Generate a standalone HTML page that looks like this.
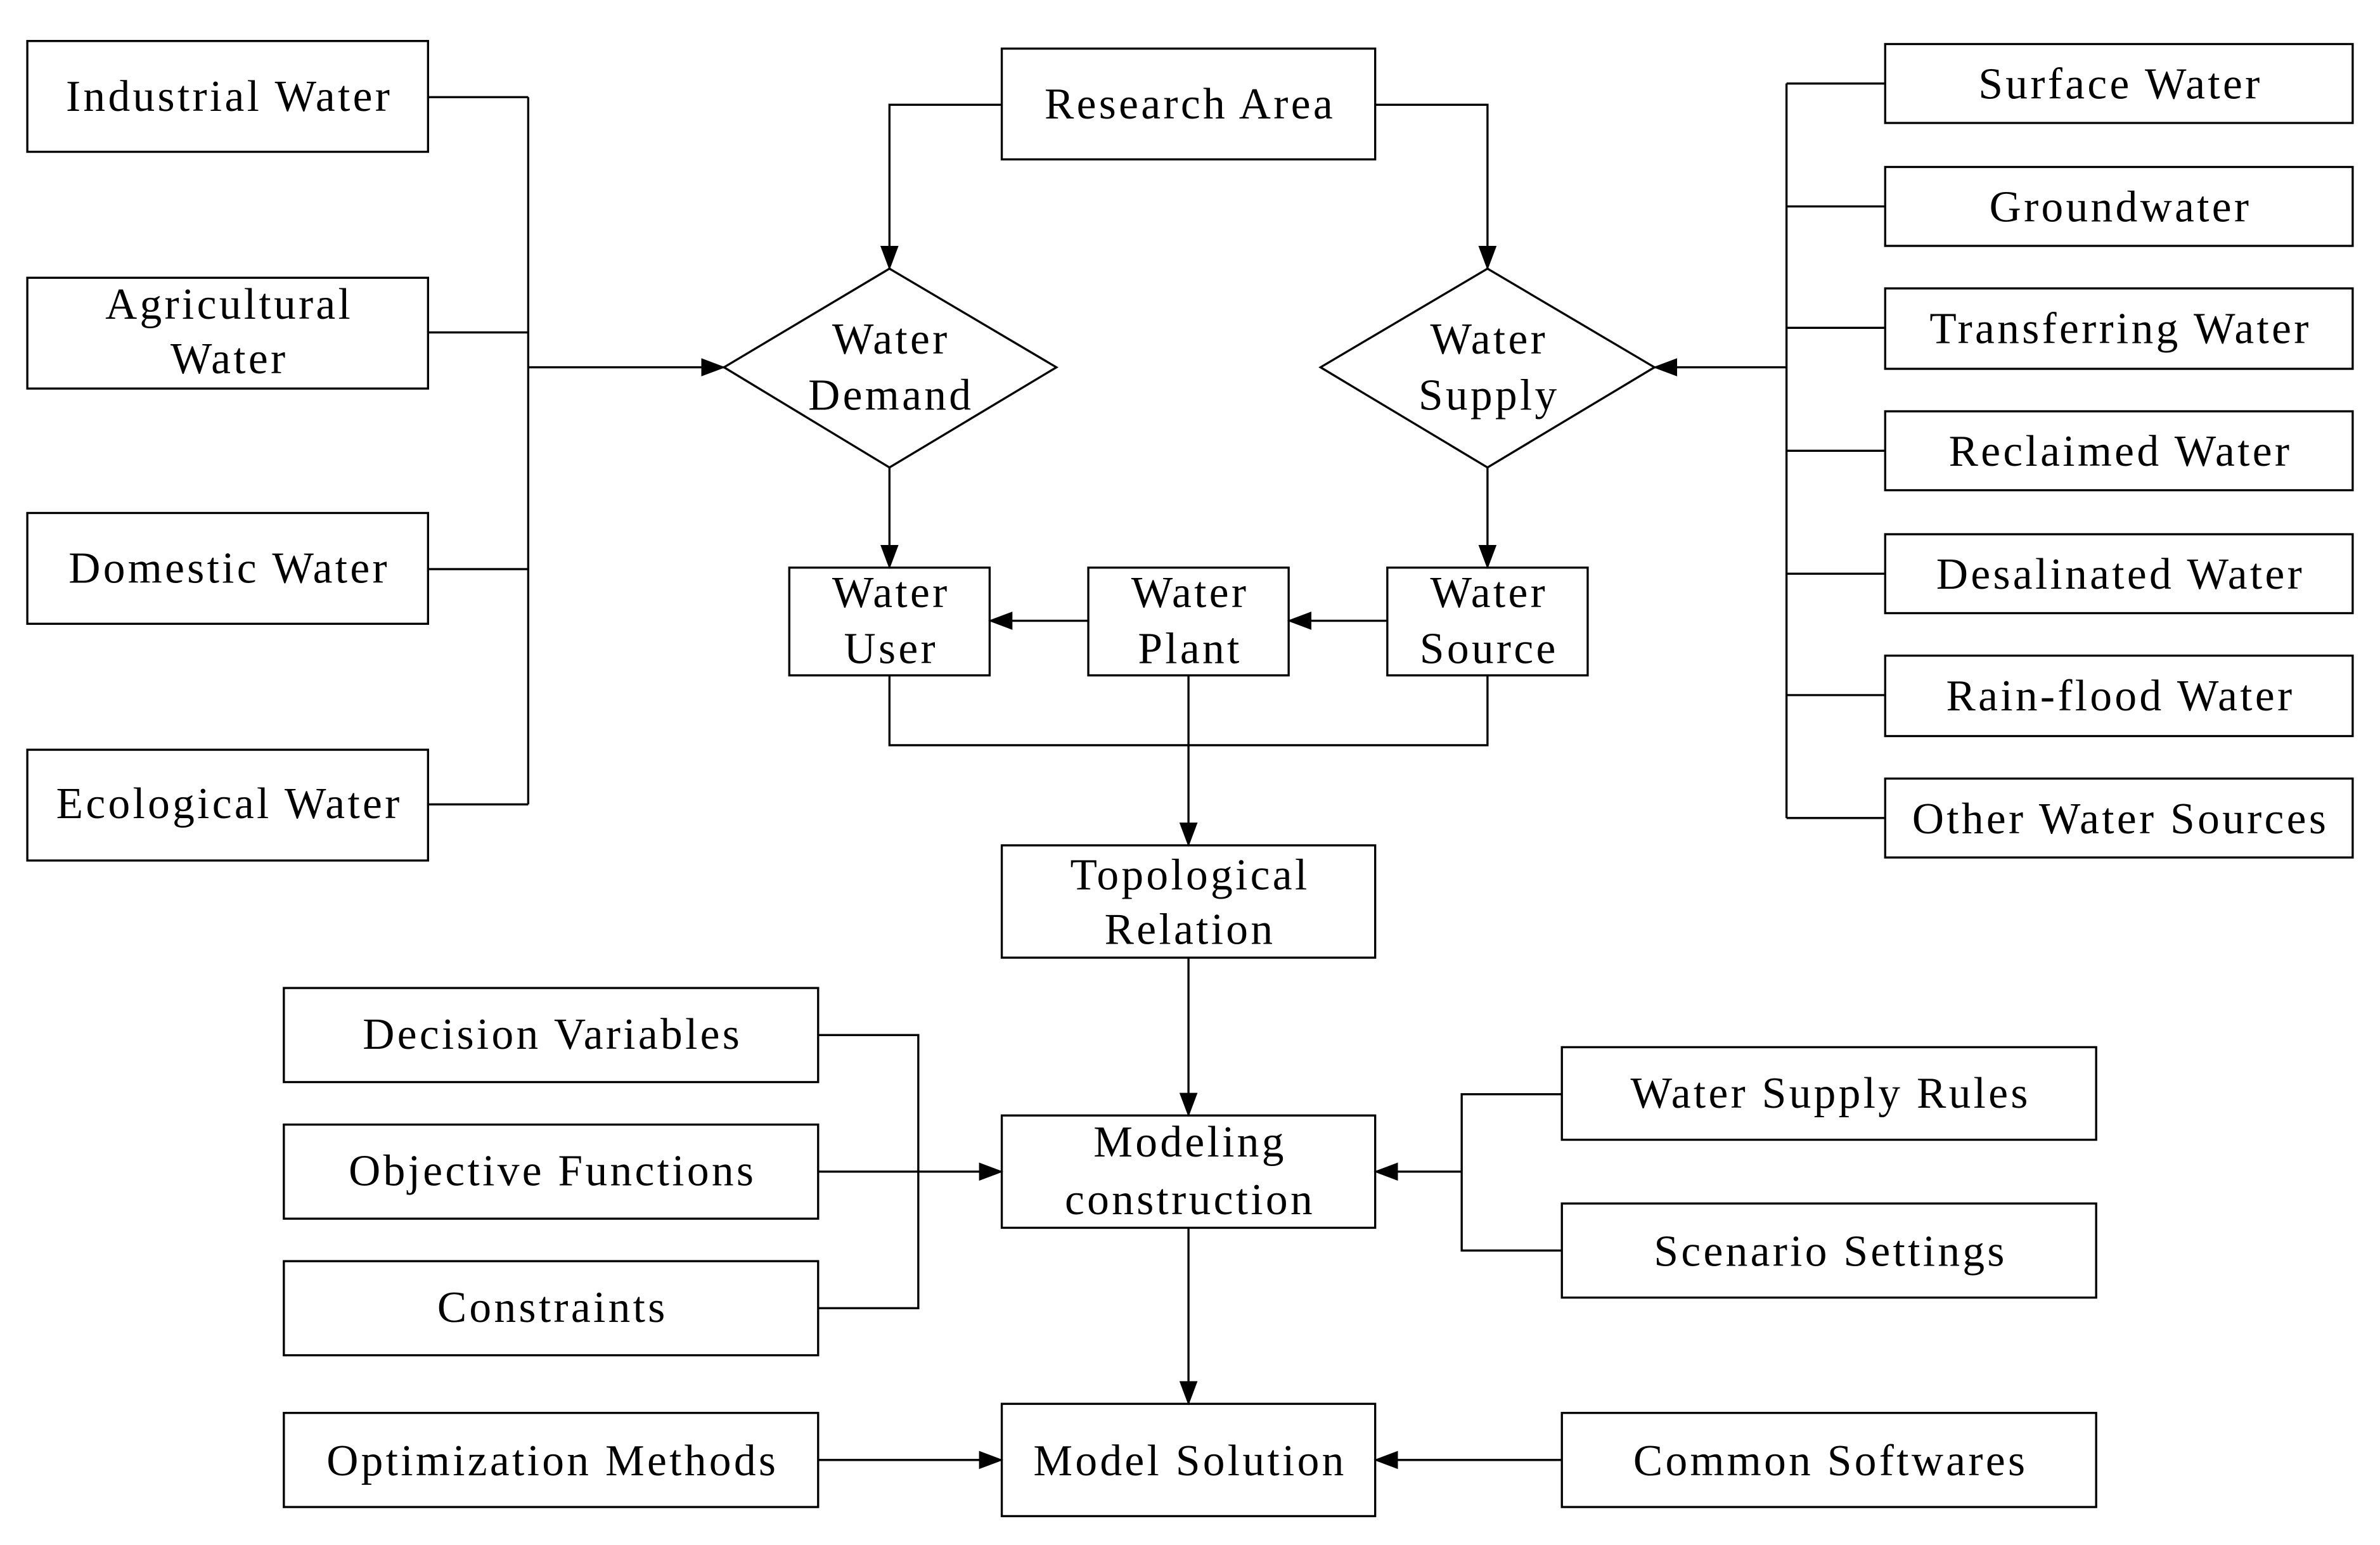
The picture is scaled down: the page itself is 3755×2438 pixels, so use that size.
<!DOCTYPE html>
<html><head><meta charset="utf-8"><style>html,body{margin:0;padding:0;background:#fff}svg{display:block}</style></head>
<body>
<svg width="3755" height="2438" viewBox="0 0 1568 1018" xmlns="http://www.w3.org/2000/svg">
<defs><marker id="a" markerWidth="16" markerHeight="12" refX="15" refY="6" orient="auto" markerUnits="userSpaceOnUse"><path d="M0,0 L16,6 L0,12 Z" fill="#000"/></marker></defs>
<g fill="none" stroke="#000" stroke-width="1.4">
<rect x="18" y="27" width="264" height="73"/><rect x="18" y="183" width="264" height="73"/><rect x="18" y="338" width="264" height="73"/><rect x="18" y="494" width="264" height="73"/>
<path d="M282,64H348M282,219H348M282,375H348M282,530H348M348,64V530"/>
<path d="M348,242H477" marker-end="url(#a)"/>
<polygon points="586,177 696,242 586,308 477,242"/>
<polygon points="980,177 1090,242 980,308 870,242"/>
<rect x="660" y="32" width="246" height="73"/>
<path d="M660,69H586V177" marker-end="url(#a)"/><path d="M906,69H980V177" marker-end="url(#a)"/>
<rect x="1242" y="29" width="308" height="52"/><rect x="1242" y="110" width="308" height="52"/><rect x="1242" y="190" width="308" height="53"/><rect x="1242" y="271" width="308" height="52"/><rect x="1242" y="352" width="308" height="52"/><rect x="1242" y="432" width="308" height="53"/><rect x="1242" y="513" width="308" height="52"/>
<path d="M1177,55H1242M1177,136H1242M1177,216H1242M1177,297H1242M1177,378H1242M1177,458H1242M1177,539H1242M1177,55V539"/>
<path d="M1177,242H1090" marker-end="url(#a)"/>
<path d="M586,308V374" marker-end="url(#a)"/><path d="M980,308V374" marker-end="url(#a)"/>
<rect x="520" y="374" width="132" height="71"/><rect x="717" y="374" width="132" height="71"/><rect x="914" y="374" width="132" height="71"/>
<path d="M717,409H652" marker-end="url(#a)"/><path d="M914,409H849" marker-end="url(#a)"/>
<path d="M586,445V491H980V445"/><path d="M783,445V557" marker-end="url(#a)"/>
<rect x="660" y="557" width="246" height="74"/><path d="M783,631V735" marker-end="url(#a)"/>
<rect x="660" y="735" width="246" height="74"/><path d="M783,809V925" marker-end="url(#a)"/>
<rect x="660" y="925" width="246" height="74"/>
<rect x="187" y="651" width="352" height="62"/><rect x="187" y="741" width="352" height="62"/><rect x="187" y="831" width="352" height="62"/><rect x="187" y="931" width="352" height="62"/>
<path d="M539,682H605V862H539"/><path d="M539,772H660" marker-end="url(#a)"/><path d="M539,962H660" marker-end="url(#a)"/>
<rect x="1029" y="690" width="352" height="61"/><rect x="1029" y="793" width="352" height="62"/><rect x="1029" y="931" width="352" height="62"/>
<path d="M1029,721H963V824H1029"/><path d="M963,772H906" marker-end="url(#a)"/><path d="M1029,962H906" marker-end="url(#a)"/>
</g>
<g font-family="'Liberation Serif',serif" font-size="29" letter-spacing="1.8" text-anchor="middle" fill="#000">
<text x="151" y="73">Industrial Water</text>
<text x="151" y="210">Agricultural</text><text x="151" y="246">Water</text>
<text x="151" y="384">Domestic Water</text>
<text x="151" y="539">Ecological Water</text>
<text x="784" y="78">Research Area</text>
<text x="587" y="233">Water</text><text x="587" y="270">Demand</text>
<text x="981" y="233">Water</text><text x="981" y="270">Supply</text>
<text x="1397" y="65">Surface Water</text>
<text x="1397" y="146">Groundwater</text>
<text x="1397" y="226">Transferring Water</text>
<text x="1397" y="307">Reclaimed Water</text>
<text x="1397" y="388">Desalinated Water</text>
<text x="1397" y="468">Rain-flood Water</text>
<text x="1397" y="549">Other Water Sources</text>
<text x="587" y="400">Water</text><text x="587" y="437">User</text>
<text x="784" y="400">Water</text><text x="784" y="437">Plant</text>
<text x="981" y="400">Water</text><text x="981" y="437">Source</text>
<text x="784" y="586">Topological</text><text x="784" y="622">Relation</text>
<text x="784" y="762">Modeling</text><text x="784" y="800">construction</text>
<text x="784" y="972">Model Solution</text>
<text x="364" y="691">Decision Variables</text>
<text x="364" y="781">Objective Functions</text>
<text x="364" y="871">Constraints</text>
<text x="364" y="972">Optimization Methods</text>
<text x="1206" y="730">Water Supply Rules</text>
<text x="1206" y="834">Scenario Settings</text>
<text x="1206" y="972">Common Softwares</text>
</g>
</svg>
</body></html>
